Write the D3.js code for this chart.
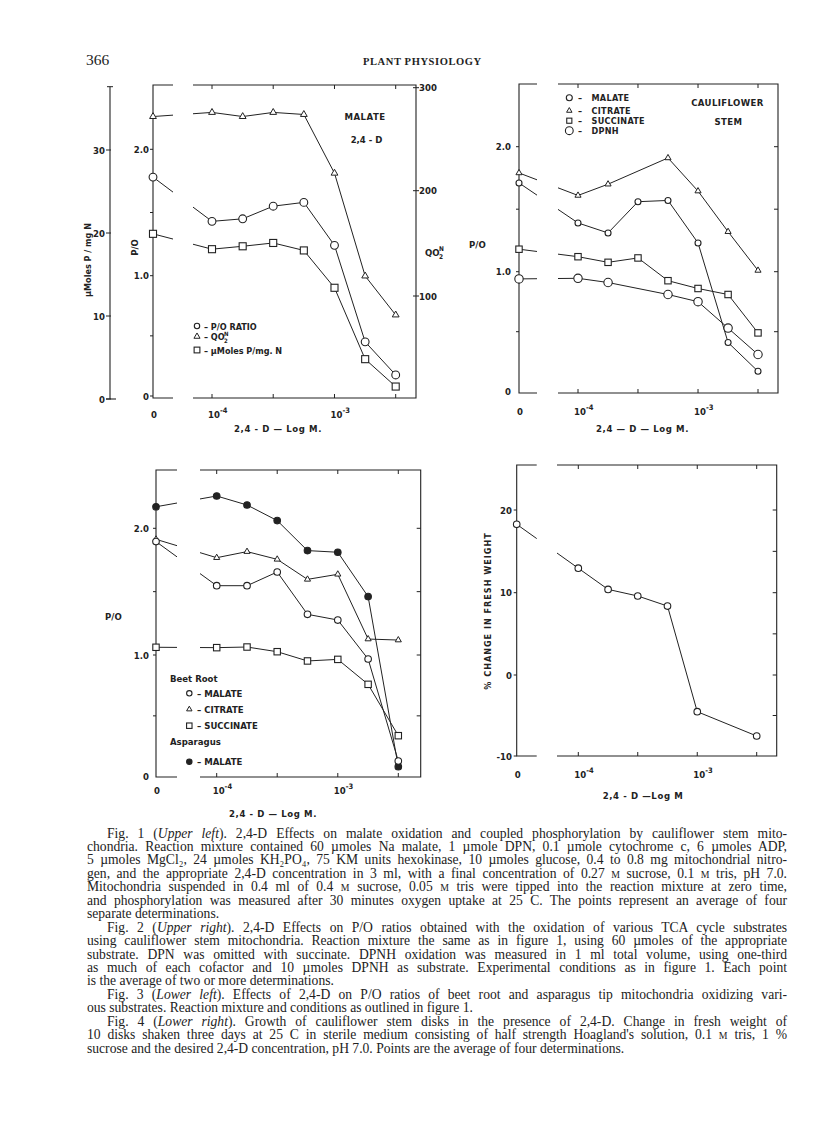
<!DOCTYPE html>
<html><head><meta charset="utf-8">
<script src="https://cdn.jsdelivr.net/npm/d3@7"></script>
<style>body{margin:0;background:#fff}svg{display:block}</style>
</head><body>
<script>
// ---------- DATA ----------
const concentrations = [0, 1e-4, 1.78e-4, 3.16e-4, 5.62e-4, 1e-3, 1.78e-3, 3.16e-3];
const xFrameTicks = [1e-4, 3.16e-4, 1e-3, 3.16e-3];
const xTickLabels = [{v: 0, t: "0"}, {v: 1e-4, t: "10", s: "-4"}, {v: 1e-3, t: "10", s: "-3"}];

// Fig. 1 (upper left)
const fig1PO = [1.78, 1.43, 1.45, 1.55, 1.58, 1.24, 0.45, 0.175];
const fig1QO2 = [272, 276, 272, 276, 274, 217, 119, 82];
const fig1Umoles = [19.9, 18.05, 18.4, 18.8, 17.9, 13.4, 4.8, 1.5];
const fig1POTicks = [0, 1, 2];
const fig1POTickLabels = ["0", "1.0", "2.0"];
const fig1POMinor = [0.5, 1.5];
const fig1UmolesTicks = [0, 10, 20, 30];
const fig1QO2Ticks = [100, 200, 300];

// Fig. 2 (upper right)
const fig2Malate = [1.71, 1.39, 1.31, 1.56, 1.57, 1.23, 0.41, 0.17];
const fig2Citrate = [1.79, 1.61, 1.70, null, 1.91, 1.645, 1.32, 1.01];
const fig2Succinate = [1.18, 1.12, 1.075, 1.11, 0.925, 0.86, 0.81, 0.49];
const fig2DPNH = [0.94, 0.945, 0.91, null, 0.81, 0.75, 0.53, 0.31];
const poTicks = [0, 1, 2];
const poTickLabels = ["0", "1.0", "2.0"];
const poAllTicks = [0.5, 1, 1.5, 2];

// Fig. 3 (lower left)
const fig3AsparagusMalate = [2.17, 2.255, 2.184, 2.061, 1.824, 1.811, 1.461, 0.082];
const fig3BeetCitrate = [1.913, 1.768, 1.816, 1.755, 1.597, 1.637, 1.126, 1.118];
const fig3BeetMalate = [1.895, 1.547, 1.547, 1.655, 1.321, 1.276, 0.967, 0.129];
const fig3BeetSuccinate = [1.061, 1.058, 1.063, 1.026, 0.951, 0.964, 0.759, 0.337];

// Fig. 4 (lower right)
const fig4FreshWeight = [18.27, 12.96, 10.4, 9.6, 8.38, -4.53, null, -7.53];
const fig4Ticks = [-10, 0, 10, 20];
const fig4AllTicks = [-5, 0, 5, 10, 15, 20];

// Caption
const captionLines = [
  {t: "Fig. 1 (<i>Upper left</i>). 2,4-D Effects on malate oxidation and coupled phosphorylation by cauliflower stem mito-", ind: true, j: true},
  {t: "chondria. Reaction mixture contained 60 \u00b5moles Na malate, 1 \u00b5mole DPN, 0.1 \u00b5mole cytochrome c, 6 \u00b5moles ADP,", j: true},
  {t: "5 \u00b5moles MgCl\u2082, 24 \u00b5moles KH\u2082PO\u2084, 75 KM units hexokinase, 10 \u00b5moles glucose, 0.4 to 0.8 mg mitochondrial nitro-", j: true},
  {t: "gen, and the appropriate 2,4-D concentration in 3 ml, with a final concentration of 0.27 <sc>M</sc> sucrose, 0.1 <sc>M</sc> tris, pH 7.0.", j: true},
  {t: "Mitochondria suspended in 0.4 ml of 0.4 <sc>M</sc> sucrose, 0.05 <sc>M</sc> tris were tipped into the reaction mixture at zero time,", j: true},
  {t: "and phosphorylation was measured after 30 minutes oxygen uptake at 25 C. The points represent an average of four", j: true},
  {t: "separate determinations.", j: false},
  {t: "Fig. 2 (<i>Upper right</i>). 2,4-D Effects on P/O ratios obtained with the oxidation of various TCA cycle substrates", ind: true, j: true},
  {t: "using cauliflower stem mitochondria. Reaction mixture the same as in figure 1, using 60 \u00b5moles of the appropriate", j: true},
  {t: "substrate. DPN was omitted with succinate. DPNH oxidation was measured in 1 ml total volume, using one-third", j: true},
  {t: "as much of each cofactor and 10 \u00b5moles DPNH as substrate. Experimental conditions as in figure 1. Each point", j: true},
  {t: "is the average of two or more determinations.", j: false},
  {t: "Fig. 3 (<i>Lower left</i>). Effects of 2,4-D on P/O ratios of beet root and asparagus tip mitochondria oxidizing vari-", ind: true, j: true},
  {t: "ous substrates. Reaction mixture and conditions as outlined in figure 1.", j: false},
  {t: "Fig. 4 (<i>Lower right</i>). Growth of cauliflower stem disks in the presence of 2,4-D. Change in fresh weight of", ind: true, j: true},
  {t: "10 disks shaken three days at 25 C in sterile medium consisting of half strength Hoagland's solution, 0.1 <sc>M</sc> tris, 1 %", j: true},
  {t: "sucrose and the desired 2,4-D concentration, pH 7.0. Points are the average of four determinations.", j: false}
];

// ---------- DRAWING ----------
const INK = "#222";
const SANS = "'DejaVu Sans Condensed','Liberation Sans Narrow','DejaVu Sans',sans-serif";
const SERIF = "'Liberation Serif','DejaVu Serif',serif";

const svg = d3.select("body").append("svg").attr("width", 816).attr("height", 1121);
svg.append("rect").attr("width", 816).attr("height", 1121).attr("fill", "#fff");

function makeX(zeroX, x1, x2) {
  const log = d3.scaleLog().domain([1e-4, 3.16e-3]).range([x1, x2]);
  const f = v => (v === 0 ? zeroX : log(v));
  f.log = log;
  return f;
}

function label(g, x, y, txt, opts = {}) {
  const t = g.append("text").attr("x", x).attr("y", y).text(txt)
    .attr("font-family", SANS).attr("font-weight", "bold")
    .attr("font-size", opts.size || 9).attr("fill", INK)
    .attr("text-anchor", opts.anchor || "start");
  if (opts.ls) t.attr("letter-spacing", opts.ls);
  if (opts.rot) t.attr("transform", `rotate(-90,${x},${y})`);
  return t;
}

function panel(p) {
  const g = svg.append("g");
  const {L, R, T, B, x} = p;
  g.append("path").attr("d", `M${L},${T}H${R}V${B}H${L}Z`)
    .attr("fill", "none").attr("stroke", INK).attr("stroke-width", 1.1);
  xFrameTicks.forEach(v => {
    g.append("line").attr("x1", x(v)).attr("x2", x(v)).attr("y1", T).attr("y2", T + 4)
      .attr("stroke", INK).attr("stroke-width", 1);
    g.append("line").attr("x1", x(v)).attr("x2", x(v)).attr("y1", B).attr("y2", B - 4)
      .attr("stroke", INK).attr("stroke-width", 1);
  });
  xTickLabels.forEach(d => {
    if (d.v === 0) {
      label(g, x(0) + 1, p.xLabY, d.t, {anchor: "middle", size: 9.5});
    } else {
      const t = label(g, x(d.v) - 4, p.xLabY, d.t, {size: 9.5});
      t.append("tspan").attr("dy", -5).attr("font-size", 7.5).text(d.s);
    }
  });
  label(g, p.xTitle[0], p.xTitle[1], p.xTitleText, {anchor: "middle", size: 9.5, ls: 0.6});
  return g;
}

function drawSeries(g, x, y, values) {
  const pts = concentrations.map((c, i) => ({c, v: values[i]})).filter(d => d.v != null);
  g.append("path").datum(pts)
    .attr("d", d3.line().x(d => x(d.c)).y(d => y(d.v)))
    .attr("fill", "none").attr("stroke", INK).attr("stroke-width", 1);
  return pts;
}

function drawBreak(g, p) {
  g.append("rect").attr("x", p.brk[0]).attr("y", p.T - 3)
    .attr("width", p.brk[1] - p.brk[0]).attr("height", p.B - p.T + 6).attr("fill", "#fff");
}

function marker(g, type, cx, cy, size) {
  const s = size || 1;
  if (type === "circle" || type === "dot") {
    g.append("circle").attr("cx", cx).attr("cy", cy).attr("r", 3 * s)
      .attr("fill", type === "dot" ? INK : "#fff").attr("stroke", INK).attr("stroke-width", 1.1);
  } else if (type === "square") {
    const h = 3.2 * s;
    g.append("rect").attr("x", cx - h).attr("y", cy - h).attr("width", 2 * h).attr("height", 2 * h)
      .attr("fill", "#fff").attr("stroke", INK).attr("stroke-width", 1.1);
  } else if (type === "triangle") {
    g.append("path").attr("transform", `translate(${cx},${cy})`)
      .attr("d", d3.symbol().type(d3.symbolTriangle).size(20 * s * s)())
      .attr("fill", "#fff").attr("stroke", INK).attr("stroke-width", 1);
  }
}

function drawMarkers(g, x, y, pts, type, size) {
  pts.forEach(d => marker(g, type, x(d.c), y(d.v), size));
}

// ===== Fig. 1 =====
{
  const p = {L: 153, R: 416, T: 85, B: 398, brk: [173, 193],
    xLabY: 417.5, xTitle: [278, 431.5], xTitleText: "2,4 - D \u2014 Log M."};
  p.x = makeX(153, 212, 395.7);
  p.y = d3.scaleLinear().domain([0, 1, 2]).range([396, 275.7, 149.3]);
  const yU = d3.scaleLinear().domain([0, 30]).range([399, 150]);
  const yQ = d3.scaleLinear().domain([100, 200, 300]).range([296, 190.7, 87.7]);
  const g = panel(p);
  fig1POTicks.concat(fig1POMinor).forEach(v => {
    g.append("line").attr("x1", p.L - 3).attr("x2", p.L).attr("y1", p.y(v)).attr("y2", p.y(v))
      .attr("stroke", INK);
  });
  fig1POTicks.forEach((v, i) => label(g, 149, p.y(v) + 3.5, fig1POTickLabels[i], {anchor: "end", size: 9.5}));
  fig1QO2Ticks.forEach(v => {
    g.append("line").attr("x1", p.R - 3).attr("x2", p.R + 3).attr("y1", yQ(v)).attr("y2", yQ(v)).attr("stroke", INK);
    label(g, 419, yQ(v) + 3.5, String(v), {size: 9.5});
  });
  g.append("line").attr("x1", 110).attr("x2", 110).attr("y1", 86.7).attr("y2", yU(0)).attr("stroke", INK).attr("stroke-width", 1.1);
  g.append("line").attr("x1", 107).attr("x2", 113).attr("y1", 86.7).attr("y2", 86.7).attr("stroke", INK);
  g.append("line").attr("x1", 106).attr("x2", 116).attr("y1", yU(0)).attr("y2", yU(0)).attr("stroke", INK).attr("stroke-width", 1.1);
  fig1UmolesTicks.forEach(v => {
    g.append("line").attr("x1", 106).attr("x2", 111).attr("y1", yU(v)).attr("y2", yU(v)).attr("stroke", INK);
    label(g, 105, yU(v) + 3.5, String(v), {anchor: "end", size: 9.5});
  });
  const sQ = drawSeries(g, p.x, yQ, fig1QO2);
  const sP = drawSeries(g, p.x, p.y, fig1PO);
  const sU = drawSeries(g, p.x, yU, fig1Umoles);
  drawBreak(g, p);
  drawMarkers(g, p.x, yQ, sQ, "triangle");
  drawMarkers(g, p.x, p.y, sP, "circle", 1.3);
  drawMarkers(g, p.x, yU, sU, "square", 1.1);
  label(g, 91, 260, "\u00b5Moles P / mg N", {anchor: "middle", rot: true, size: 9});
  label(g, 138, 247.5, "P/O", {anchor: "middle", rot: true, size: 9.5});
  label(g, 425, 256, "QO", {size: 9.5});
  label(g, 439, 251, "N", {size: 6.5});
  label(g, 439, 259, "2", {size: 6.5});
  label(g, 365, 119.5, "MALATE", {anchor: "middle", size: 9.5, ls: 0.5});
  label(g, 366.5, 143, "2,4 - D", {anchor: "middle", size: 9.5});
  marker(g, "circle", 197, 326, 0.9);
  label(g, 204, 329.5, "\u2013 P/O  RATIO", {size: 9});
  marker(g, "triangle", 197, 336.5, 0.9);
  label(g, 204, 339.5, "\u2013 QO", {size: 9});
  label(g, 224, 336, "N", {size: 6});
  label(g, 224, 342.5, "2", {size: 6});
  marker(g, "square", 197, 350, 0.9);
  label(g, 204, 353.5, "\u2013 \u00b5Moles P/mg. N", {size: 9});
}

// ===== Fig. 2 =====
{
  const p = {L: 519, R: 778, T: 84, B: 393, brk: [537, 558],
    xLabY: 415, xTitle: [642.5, 431.8], xTitleText: "2,4 \u2014 D \u2014 Log M."};
  p.x = makeX(519, 578, 758);
  p.y = d3.scaleLinear().domain([0, 1, 2]).range([391.7, 271.7, 146.7]);
  const g = panel(p);
  poAllTicks.forEach(v => {
    g.append("line").attr("x1", p.R - 4).attr("x2", p.R).attr("y1", p.y(v)).attr("y2", p.y(v)).attr("stroke", INK);
    g.append("line").attr("x1", p.L - 3).attr("x2", p.L).attr("y1", p.y(v)).attr("y2", p.y(v)).attr("stroke", INK);
  });
  poTicks.forEach((v, i) => label(g, 511, p.y(v) + 3.5, poTickLabels[i], {anchor: "end", size: 9.5}));
  const sC = drawSeries(g, p.x, p.y, fig2Citrate);
  const sM = drawSeries(g, p.x, p.y, fig2Malate);
  const sS = drawSeries(g, p.x, p.y, fig2Succinate);
  const sD = drawSeries(g, p.x, p.y, fig2DPNH);
  drawBreak(g, p);
  drawMarkers(g, p.x, p.y, sC, "triangle", 0.9);
  drawMarkers(g, p.x, p.y, sM, "circle", 1);
  drawMarkers(g, p.x, p.y, sS, "square", 1);
  drawMarkers(g, p.x, p.y, sD, "circle", 1.4);
  label(g, 469, 247.5, "P/O", {size: 9.5});
  label(g, 727.5, 105.8, "CAULIFLOWER", {anchor: "middle", size: 9.5, ls: 0.4});
  label(g, 728.5, 125.2, "STEM", {anchor: "middle", size: 9.5, ls: 0.4});
  const leg = [["circle", 1, "MALATE", 97.7], ["triangle", 0.8, "CITRATE", 110.7], ["square", 0.8, "SUCCINATE", 120.7], ["circle", 1.3, "DPNH", 130.7]];
  leg.forEach(d => {
    marker(g, d[0], 569.3, d[3], d[1]);
    label(g, 578, d[3] + 3.5, "\u2013", {size: 9});
    label(g, 591.5, d[3] + 3.5, d[2], {size: 9, ls: 0.3});
  });
}

// ===== Fig. 3 =====
{
  const p = {L: 156, R: 420.7, T: 470, B: 777, brk: [177, 200],
    xLabY: 793.5, xTitle: [273, 816.8], xTitleText: "2,4 - D \u2014 Log M."};
  p.x = makeX(156, 216.7, 398.3);
  p.y = d3.scaleLinear().domain([0, 1, 2]).range([776.7, 655, 528.3]);
  const g = panel(p);
  poAllTicks.forEach(v => {
    g.append("line").attr("x1", p.R - 4).attr("x2", p.R).attr("y1", p.y(v)).attr("y2", p.y(v)).attr("stroke", INK);
    g.append("line").attr("x1", p.L - 3).attr("x2", p.L).attr("y1", p.y(v)).attr("y2", p.y(v)).attr("stroke", INK);
  });
  poTicks.forEach((v, i) => label(g, 149, p.y(v) + 3.5, poTickLabels[i], {anchor: "end", size: 9.5}));
  const sA = drawSeries(g, p.x, p.y, fig3AsparagusMalate);
  const sC = drawSeries(g, p.x, p.y, fig3BeetCitrate);
  const sM = drawSeries(g, p.x, p.y, fig3BeetMalate);
  const sS = drawSeries(g, p.x, p.y, fig3BeetSuccinate);
  drawBreak(g, p);
  drawMarkers(g, p.x, p.y, sA, "dot", 1.1);
  drawMarkers(g, p.x, p.y, sC, "triangle", 0.9);
  drawMarkers(g, p.x, p.y, sM, "circle", 1.1);
  drawMarkers(g, p.x, p.y, sS, "square", 1);
  label(g, 105, 619.5, "P/O", {size: 9.5});
  label(g, 170, 681.8, "Beet Root", {size: 9.5});
  const leg = [["circle", 0.9, "MALATE", 693.3], ["triangle", 0.8, "CITRATE", 709.3], ["square", 0.85, "SUCCINATE", 725.7]];
  leg.forEach(d => {
    marker(g, d[0], 189.3, d[3], d[1]);
    label(g, 197, d[3] + 3.5, "\u2013 " + d[2], {size: 9.5});
  });
  label(g, 170, 744.5, "Asparagus", {size: 9.5});
  marker(g, "dot", 189.3, 761.7, 0.9);
  label(g, 197, 765.2, "\u2013 MALATE", {size: 9.5});
}

// ===== Fig. 4 =====
{
  const p = {L: 516.7, R: 776.7, T: 465, B: 756, brk: [536.7, 557],
    xLabY: 777.5, xTitle: [643, 798.5], xTitleText: "2,4 - D \u2014Log M"};
  p.x = makeX(516.7, 578.3, 756.7);
  p.y = d3.scaleLinear().domain([-10, 0, 10, 20]).range([756, 675, 592.7, 510]);
  const g = panel(p);
  fig4AllTicks.forEach(v => {
    g.append("line").attr("x1", p.R - 4).attr("x2", p.R).attr("y1", p.y(v)).attr("y2", p.y(v)).attr("stroke", INK);
  });
  fig4Ticks.forEach(v => {
    g.append("line").attr("x1", p.L - 3).attr("x2", p.L).attr("y1", p.y(v)).attr("y2", p.y(v)).attr("stroke", INK);
    label(g, 512, p.y(v) + 3.5, String(v), {anchor: "end", size: 9.5});
  });
  const s = drawSeries(g, p.x, p.y, fig4FreshWeight);
  drawBreak(g, p);
  drawMarkers(g, p.x, p.y, s, "circle", 1.1);
  label(g, 491, 611, "% CHANGE IN FRESH WEIGHT", {anchor: "middle", rot: true, size: 9, ls: 1});
}

// ===== Header =====
svg.append("text").attr("x", 86).attr("y", 65).text("366")
  .attr("font-family", SERIF).attr("font-size", 15.5).attr("fill", INK);
svg.append("text").attr("x", 363).attr("y", 64.5).text("PLANT PHYSIOLOGY")
  .attr("font-family", SERIF).attr("font-weight", "bold").attr("font-size", 10.5)
  .attr("letter-spacing", 0.6).attr("fill", INK);

// ===== Caption =====
{
  const left = 87, right = 787, indent = 20, top = 837.5, lh = 13.45;
  captionLines.forEach((ln, i) => {
    const x0 = left + (ln.ind ? indent : 0);
    const t = svg.append("text").attr("x", x0).attr("y", top + i * lh)
      .attr("font-family", SERIF).attr("font-size", 13.6).attr("fill", INK);
    const parts = ln.t.split(/(<i>.*?<\/i>|<sc>.*?<\/sc>)/).filter(s => s.length);
    parts.forEach(s => {
      let m;
      const ts = t.append("tspan");
      if ((m = s.match(/^<i>(.*)<\/i>$/))) ts.attr("font-style", "italic").text(m[1]);
      else if ((m = s.match(/^<sc>(.*)<\/sc>$/))) ts.attr("font-size", 9.8).text(m[1]);
      else ts.text(s);
    });
    if (ln.j) {
      const node = t.node();
      const natural = node.getComputedTextLength();
      const target = right - x0;
      const spaces = (node.textContent.match(/ /g) || []).length;
      if (spaces > 0) {
        t.attr("word-spacing", (target - natural) / spaces);
        const after = node.getComputedTextLength();
        if (Math.abs(after - target) > 3) {
          t.attr("word-spacing", null).attr("textLength", target).attr("lengthAdjust", "spacing");
        }
      }
    }
  });
}
</script>
</body></html>
